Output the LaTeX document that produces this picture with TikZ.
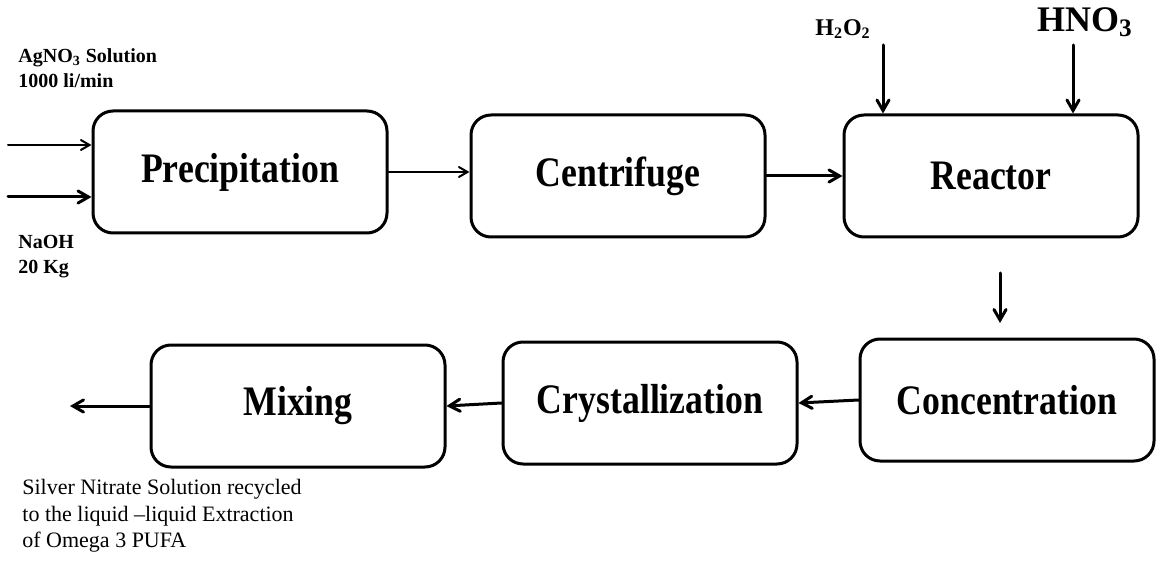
\documentclass[tikz,border=0pt]{standalone}
\usepackage{fontspec}
\setmainfont{Liberation Serif}
\newfontfamily\boxfont[FakeStretch=0.85]{Liberation Serif}
\usetikzlibrary{%
  arrows,%
  positioning,% wg. " of "
  calc
}

\begin{document}
\begin{tikzpicture}[
  x=0.5pt, y=-0.5pt, >=angle 60, line cap=round,
  box/.style={rectangle, rounded corners=10pt, draw=black, line width=1.5pt,
    minimum width=147pt, minimum height=61pt, inner sep=0pt,
    font=\boxfont\fontsize{21}{24}\selectfont\bfseries},
  feed/.style={font=\fontsize{10}{12.5}\selectfont\bfseries, align=left, inner sep=0pt, anchor=west},
  flow/.style={->, line width=1.5pt},
  thinflow/.style={->, line width=1pt}
]
\useasboundingbox (0,0) rectangle (1160,571);

\node[box] (prec) at (240,172) {Precipitation};
\node[box] (centr) at (618,176) {Centrifuge};
\node[box] (reac) at (991,176) {Reactor};
\node[box] (conc) at (1007,400) {Concentration};
\node[box] (cryst) at (650,403) {Crystallization};
\node[box] (mix) at (298,406) {Mixing};

\node[feed] (agno3) at (18,68) {AgNO\textsubscript{3} Solution\\1000 li/min};
\node[feed] (naoh) at (18,257) {NaOH\\20 Kg};
\node[font=\fontsize{12}{14}\selectfont\bfseries] (h2o2) at (843,29) {H\textsubscript{2}O\textsubscript{2}};
\node[font=\fontsize{18}{20}\selectfont\bfseries] (hno3) at (1085,22) {HNO\textsubscript{3}};
\node[anchor=north west, align=left, inner sep=0pt, font=\fontsize{11}{13.2}\selectfont] (recyc)
  at (22,479) {Silver Nitrate Solution recycled\\to the liquid --liquid Extraction\\of Omega 3 PUFA};

\coordinate (ag-in) at (8,145);
\coordinate (naoh-in) at (8,197);
\coordinate (h2o2-in) at (883,45);
\coordinate (hno3-in) at (1073,45);
\coordinate (down-a) at (1000,273);
\coordinate (down-b) at (1000,323);
\coordinate (out) at (70,406);

\draw[thinflow] (ag-in) -- (prec.west |- ag-in);
\draw[flow] (naoh-in) -- (prec.west |- naoh-in);
\draw[thinflow] (prec.east) -- (prec.east -| centr.west);
\draw[flow] (centr.east) -- (reac.west);
\draw[flow] (h2o2-in) -- (h2o2-in |- reac.north);
\draw[flow] (hno3-in) -- (hno3-in |- reac.north);
\draw[flow] (down-a) -- (down-b);
\draw[flow] (conc.west) -- (cryst.east);
\draw[flow] (cryst.west) -- (mix.east);
\draw[flow] (mix.west) -- (out);
\end{tikzpicture}
\end{document}
